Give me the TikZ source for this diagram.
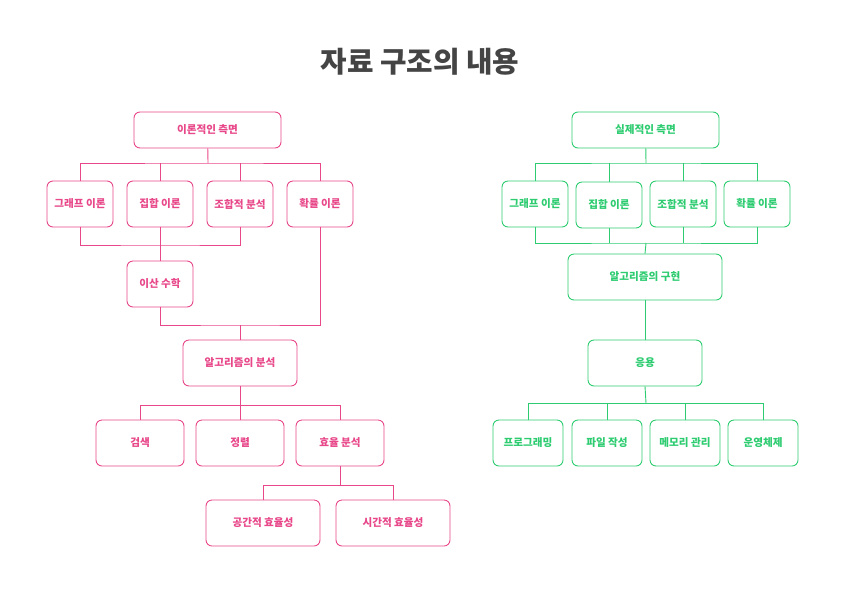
\documentclass[tikz,border=0pt]{standalone}
\usepackage{fontspec}
\setmainfont{Noto Sans CJK KR}
\usepackage{tikz}
\usetikzlibrary{positioning,calc}

\definecolor{pinkc}{RGB}{232,72,138}
\definecolor{greenc}{RGB}{46,204,113}
\definecolor{titlec}{RGB}{68,68,68}

\begin{document}
\begin{tikzpicture}[x=1pt,y=-1pt]
        \tikzstyle{box}=[rectangle, rounded corners=6pt, draw, line width=0.9pt, fill=white,
                         minimum height=46pt, inner sep=0pt, font=\bfseries\fontsize{10.6}{12}\selectfont]
        \tikzstyle{pbox}=[box, draw=pinkc, text=pinkc]
        \tikzstyle{gbox}=[box, draw=greenc, text=greenc]
        \tikzstyle{pline}=[draw=pinkc, line width=0.9pt]
        \tikzstyle{gline}=[draw=greenc, line width=0.9pt]

        \useasboundingbox (0,0) rectangle (842,595);

        \node[font=\bfseries\fontsize{28.8}{32}\selectfont, text=titlec] (title) at (420,62) {자료 구조의 내용};

        % left side
        \node[pbox, minimum width=147pt, minimum height=36pt] (lroot) at (207.5,130) {이론적인 측면};
        \node[pbox, minimum width=66pt] (lgraph) at (80,204) {그래프 이론};
        \node[pbox, minimum width=66pt] (lset)   at (160,204) {집합 이론};
        \node[pbox, minimum width=66pt] (lcomb)  at (240,204) {조합적 분석};
        \node[pbox, minimum width=66pt] (lprob)  at (320,204) {확률 이론};
        \node[pbox, minimum width=66pt] (disc)   at (160,284) {이산 수학};
        \node[pbox, minimum width=114pt] (anal)  at (240,363) {알고리즘의 분석};
        \node[pbox, minimum width=88pt] (search) at (140,443) {검색};
        \node[pbox, minimum width=88pt] (sort)   at (240,443) {정렬};
        \node[pbox, minimum width=88pt] (eff)    at (340,443) {효율 분석};
        \node[pbox, minimum width=114pt] (space) at (263,523) {공간적 효율성};
        \node[pbox, minimum width=114pt] (time)  at (393,523) {시간적 효율성};

        \coordinate (lbus1) at (208,163);
        \coordinate (lbus2) at (160,245);
        \coordinate (lbus3) at (240,325);
        \coordinate (lbus4) at (240,405);
        \coordinate (lbus5) at (340,485);

        \draw[pline] (lroot) -- (lbus1);
        \draw[pline] (lgraph.north) |- (lbus1) -| (lprob.north);
        \draw[pline] (lset.north) -- (lset.north |- lbus1);
        \draw[pline] (lcomb.north) -- (lcomb.north |- lbus1);
        \draw[pline] (lgraph.south) |- (lbus2) -| (lcomb.south);
        \draw[pline] (lset.south) -- (disc.north);
        \draw[pline] (disc.south) |- (lbus3) -| (lprob.south);
        \draw[pline] (lbus3) -- (anal.north);
        \draw[pline] (anal.south) -- (lbus4);
        \draw[pline] (search.north) |- (lbus4) -| (eff.north);
        \draw[pline] (lbus4) -- (sort.north);
        \draw[pline] (eff.south) -- (lbus5);
        \draw[pline] (space.north) |- (lbus5) -| (time.north);

        % right side
        \node[gbox, minimum width=147pt, minimum height=36pt] (rroot) at (645.5,130) {실제적인 측면};
        \node[gbox, minimum width=66pt] (rgraph) at (535,204) {그래프 이론};
        \node[gbox, minimum width=66pt] (rset)   at (609,205) {집합 이론};
        \node[gbox, minimum width=66pt] (rcomb)  at (683,204) {조합적 분석};
        \node[gbox, minimum width=66pt] (rprob)  at (757,204) {확률 이론};
        \node[gbox, minimum width=154pt] (impl)  at (645,277) {알고리즘의 구현};
        \node[gbox, minimum width=114pt] (app)   at (645,363) {응용};
        \node[gbox, minimum width=70pt] (prog)   at (528,443) {프로그래밍};
        \node[gbox, minimum width=70pt] (file)   at (607,443) {파일 작성};
        \node[gbox, minimum width=70pt] (mem)    at (685,443) {메모리 관리};
        \node[gbox, minimum width=70pt] (os)     at (763,443) {운영체제};

        \coordinate (rbus1) at (646,163);
        \coordinate (rbus2) at (646,243);
        \coordinate (rbus3) at (646,403);

        \draw[gline] (rroot) -- (rbus1);
        \draw[gline] (rgraph.north) |- (rbus1) -| (rprob.north);
        \draw[gline] (rset.north) -- (rset.north |- rbus1);
        \draw[gline] (rcomb.north) -- (rcomb.north |- rbus1);
        \draw[gline] (rgraph.south) |- (rbus2) -| (rprob.south);
        \draw[gline] (rset.south) -- (rset.south |- rbus2);
        \draw[gline] (rcomb.south) -- (rcomb.south |- rbus2);
        \draw[gline] (rbus2) -- (impl.north);
        \draw[gline] (impl.south) -- (app.north);
        \draw[gline] (app.south) -- (rbus3);
        \draw[gline] (prog.north) |- (rbus3) -| (os.north);
        \draw[gline] (file.north) -- (file.north |- rbus3);
        \draw[gline] (mem.north) -- (mem.north |- rbus3);
\end{tikzpicture}
\end{document}
